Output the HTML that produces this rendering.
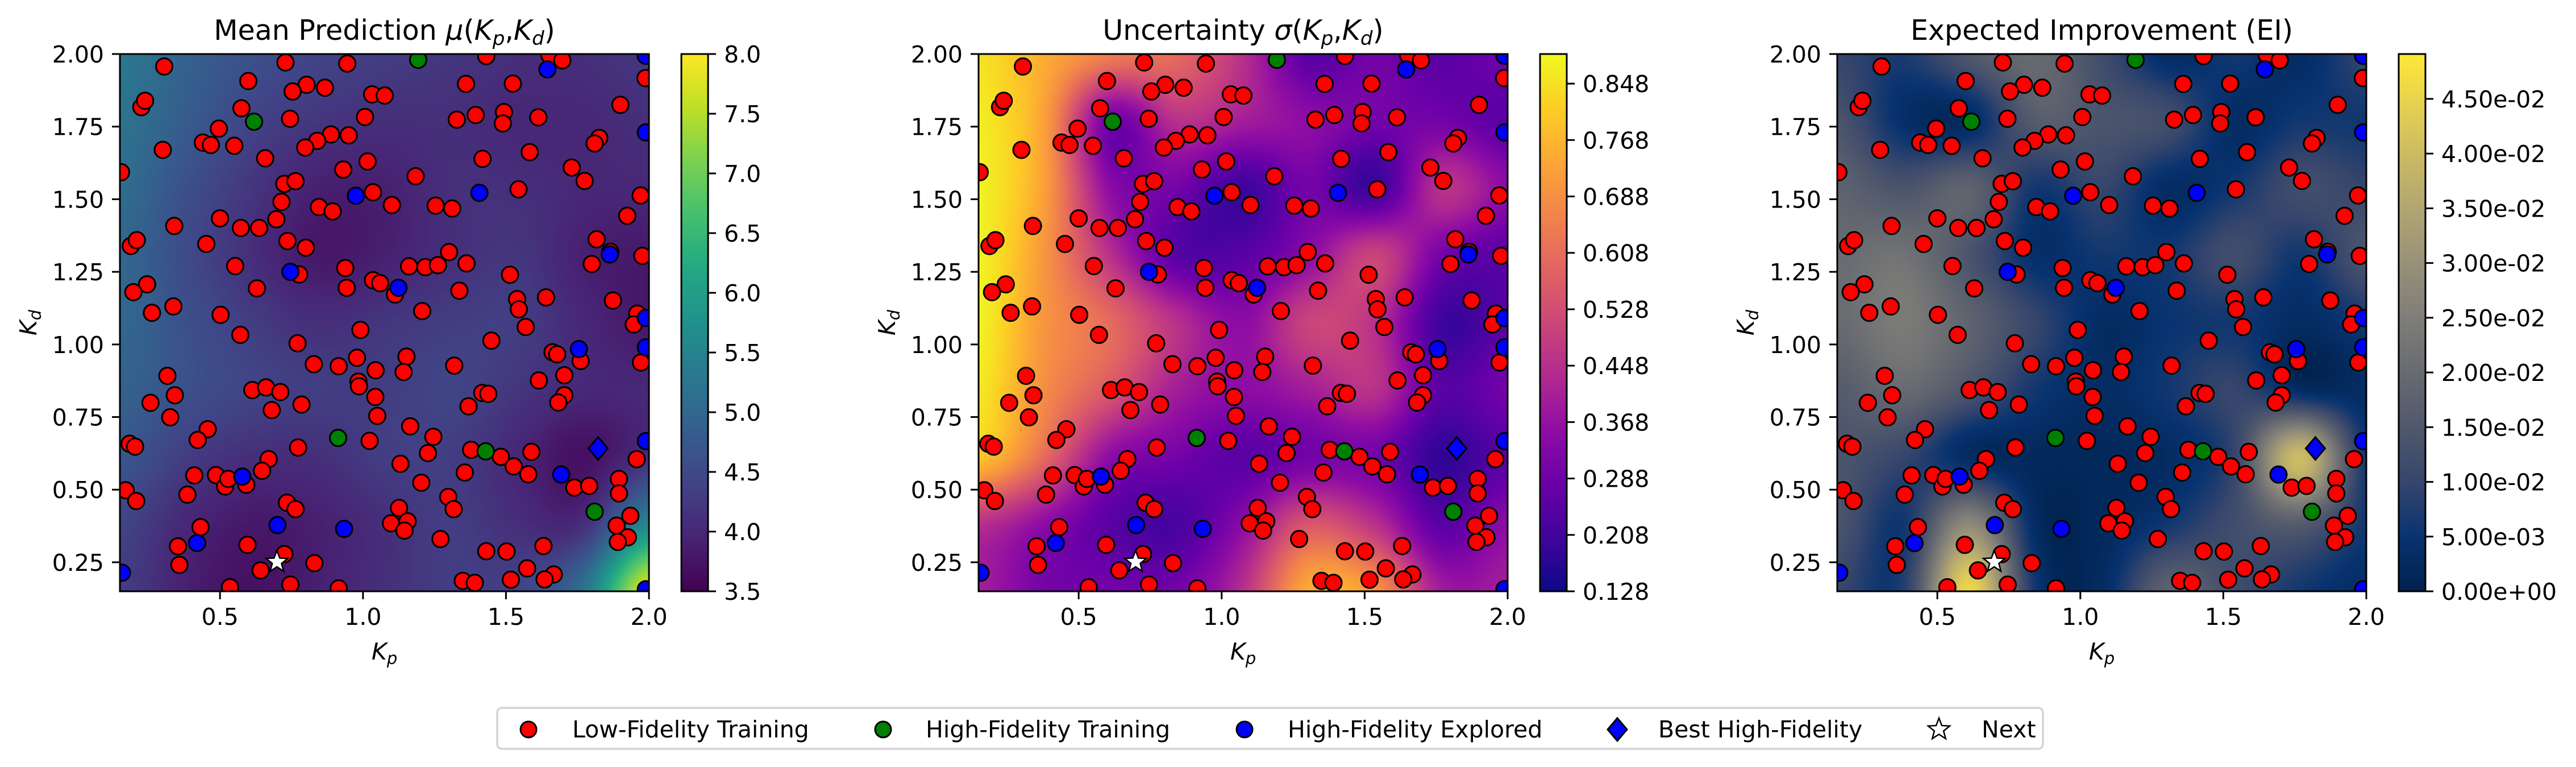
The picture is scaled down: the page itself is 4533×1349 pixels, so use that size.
<!DOCTYPE html>
<html><head><meta charset="utf-8">
<style>
html,body{margin:0;padding:0;background:#fff;}
#wrap{position:relative;width:4533px;height:1349px;overflow:hidden;background:#fff;}
canvas{position:absolute;}
svg{position:absolute;left:0;top:0;}
</style></head>
<body>
<div id="wrap">
<svg id="svg" width="4533" height="1349" xmlns="http://www.w3.org/2000/svg" font-family="DejaVu Sans, Liberation Sans, sans-serif"></svg>
</div>
<script>
// ---------- data ----------
const lowKp=[0.305,0.729,0.945,1.431,1.652,1.697,1.988,0.599,0.803,0.867,0.754,1.360,1.524,1.032,1.076,0.225,0.238,0.575,0.745,1.007,1.328,1.394,1.493,1.489,1.613,1.900,0.496,0.888,0.950,0.840,0.798,0.440,0.468,0.550,0.300,0.658,1.016,1.826,1.810,1.583,1.418,0.154,0.931,1.184,1.730,1.775,0.725,0.764,1.035,1.544,1.971,0.715,0.846,0.894,1.101,1.254,1.312,0.500,0.697,1.924,0.340,0.573,0.637,0.188,0.209,0.452,0.736,0.800,1.817,1.865,0.553,1.301,1.362,1.977,1.800,0.777,0.938,1.161,1.218,1.262,1.514,0.245,0.197,0.629,0.943,1.035,1.060,1.337,1.112,1.539,1.545,1.640,1.874,0.262,0.337,0.502,1.207,1.959,1.947,0.571,0.991,1.569,1.449,0.771,1.663,1.679,1.761,1.972,0.316,0.828,0.915,0.979,1.152,1.044,1.142,1.319,1.704,1.615,0.984,0.986,0.613,0.661,0.711,0.342,1.043,1.417,1.438,1.704,1.683,0.257,0.681,0.785,1.369,0.326,1.050,0.457,1.165,1.246,0.422,1.023,0.184,0.203,0.773,1.227,1.378,1.482,1.589,1.957,0.670,1.131,1.527,1.356,1.578,0.410,0.486,0.518,0.529,0.592,0.647,1.204,1.739,1.791,1.895,1.895,0.170,0.207,0.386,0.734,0.764,1.298,1.317,1.126,1.098,1.156,1.145,0.432,1.935,1.887,1.926,1.891,0.353,0.596,1.271,1.431,1.502,1.631,0.358,0.725,0.830,0.642,1.574,1.667,1.635,1.349,1.391,1.517,0.535,0.746,0.915];
const lowKd=[1.957,1.971,1.967,1.993,1.996,1.978,1.917,1.907,1.894,1.884,1.871,1.897,1.898,1.861,1.857,1.817,1.839,1.813,1.777,1.783,1.774,1.790,1.800,1.761,1.782,1.825,1.743,1.723,1.720,1.701,1.678,1.695,1.687,1.684,1.670,1.641,1.630,1.711,1.692,1.662,1.639,1.593,1.602,1.579,1.609,1.563,1.553,1.562,1.524,1.534,1.513,1.491,1.473,1.458,1.480,1.478,1.468,1.434,1.431,1.443,1.408,1.401,1.401,1.339,1.359,1.346,1.356,1.333,1.362,1.319,1.270,1.318,1.279,1.305,1.277,1.241,1.263,1.269,1.266,1.273,1.240,1.207,1.180,1.193,1.195,1.221,1.211,1.185,1.172,1.156,1.121,1.162,1.151,1.109,1.131,1.102,1.115,1.106,1.069,1.033,1.050,1.060,1.013,1.004,0.973,0.966,0.943,0.938,0.892,0.932,0.925,0.954,0.958,0.911,0.905,0.927,0.894,0.876,0.872,0.856,0.843,0.852,0.836,0.825,0.819,0.833,0.830,0.825,0.800,0.799,0.774,0.793,0.787,0.749,0.754,0.708,0.718,0.682,0.671,0.668,0.658,0.648,0.645,0.626,0.637,0.613,0.630,0.605,0.605,0.589,0.580,0.559,0.553,0.549,0.550,0.511,0.537,0.517,0.565,0.524,0.507,0.513,0.537,0.487,0.498,0.461,0.483,0.455,0.433,0.475,0.433,0.437,0.384,0.391,0.359,0.371,0.410,0.376,0.336,0.320,0.305,0.310,0.330,0.288,0.287,0.306,0.241,0.278,0.247,0.222,0.229,0.208,0.191,0.186,0.179,0.190,0.164,0.173,0.160];
const hiTrainKp=[1.193,0.619,0.913,1.429,1.810];
const hiTrainKd=[1.980,1.767,0.678,0.632,0.424];
const exploredKp=[1.645,1.989,1.989,0.975,1.407,0.746,1.124,1.863,1.989,1.755,1.989,1.989,1.693,0.578,0.701,0.934,0.420,0.157,1.989];
const exploredKd=[1.947,1.994,1.730,1.512,1.522,1.250,1.195,1.310,1.091,0.984,0.990,0.667,0.552,0.545,0.378,0.365,0.316,0.214,0.157];
const bestKp=[1.822], bestKd=[0.642];
const nextKp=[0.699], nextKd=[0.251];

// heatmap grids: rows Kd 2.0 -> 0.15, cols Kp 0.15 -> 2.0 (9x9)
const meanGrid=[
[5.3,4.9,4.6,4.4,4.3,4.2,4.1,4.1,4.2],
[5.2,4.8,4.4,4.2,4.1,4.1,4.0,4.0,4.1],
[5.1,4.6,4.2,3.9,3.9,4.1,4.1,4.0,4.0],
[5.0,4.5,4.1,3.8,3.9,4.1,4.2,3.9,3.8],
[5.0,4.6,4.3,4.1,4.2,4.3,4.3,4.0,3.8],
[4.9,4.6,4.4,4.3,4.3,4.4,4.2,4.0,4.0],
[4.7,4.3,4.1,4.1,4.3,4.3,4.0,3.7,4.1],
[4.4,4.0,3.8,3.9,4.1,4.3,4.1,4.1,5.6],
[4.3,3.9,3.7,3.9,4.1,4.3,4.4,5.2,7.9]];
const sigmaGrid=[
[0.85,0.75,0.65,0.60,0.45,0.25,0.30,0.25,0.30],
[0.87,0.72,0.30,0.45,0.40,0.35,0.30,0.30,0.25],
[0.88,0.72,0.35,0.30,0.20,0.30,0.20,0.45,0.35],
[0.88,0.70,0.45,0.25,0.25,0.35,0.50,0.30,0.25],
[0.88,0.70,0.60,0.45,0.35,0.50,0.45,0.20,0.25],
[0.86,0.68,0.55,0.40,0.35,0.40,0.45,0.25,0.30],
[0.80,0.60,0.35,0.30,0.25,0.30,0.30,0.18,0.25],
[0.45,0.35,0.25,0.22,0.35,0.55,0.45,0.25,0.35],
[0.40,0.30,0.30,0.30,0.45,0.75,0.70,0.40,0.40]];
const eiGrid=[
[0.010,0.007,0.015,0.020,0.012,0.003,0.006,0.003,0.010],
[0.014,0.004,0.003,0.016,0.014,0.012,0.003,0.006,0.006],
[0.018,0.014,0.018,0.006,0.010,0.003,0.006,0.012,0.010],
[0.020,0.022,0.014,0.004,0.006,0.006,0.012,0.006,0.014],
[0.020,0.024,0.018,0.010,0.003,0.005,0.006,0.003,0.006],
[0.016,0.020,0.014,0.006,0.003,0.006,0.010,0.003,0.003],
[0.014,0.010,0.003,0.002,0.002,0.003,0.010,0.040,0.006],
[0.014,0.006,0.028,0.003,0.002,0.006,0.012,0.016,0.006],
[0.010,0.008,0.046,0.006,0.003,0.018,0.012,0.006,0.003]];

const xTicks=[0.5,1.0,1.5,2.0];
const xTickLabels=['0.5','1.0','1.5','2.0'];
const yTicks=[0.25,0.5,0.75,1.0,1.25,1.5,1.75,2.0];
const yTickLabels=['0.25','0.50','0.75','1.00','1.25','1.50','1.75','2.00'];
const cb1Ticks=[3.5,4.0,4.5,5.0,5.5,6.0,6.5,7.0,7.5,8.0];
const cb1Labels=['3.5','4.0','4.5','5.0','5.5','6.0','6.5','7.0','7.5','8.0'];
const cb2Ticks=[0.128,0.208,0.288,0.368,0.448,0.528,0.608,0.688,0.768,0.848];
const cb2Labels=['0.128','0.208','0.288','0.368','0.448','0.528','0.608','0.688','0.768','0.848'];
const cb3Ticks=[0,0.005,0.01,0.015,0.02,0.025,0.03,0.035,0.04,0.045];
const cb3Labels=['0.00e+00','5.00e-03','1.00e-02','1.50e-02','2.00e-02','2.50e-02','3.00e-02','3.50e-02','4.00e-02','4.50e-02'];

// ---------- layout ----------
const PL=[211,1722,3233], PW=931, PT=95, PH=945;
const XMIN=0.15,XMAX=2.0,YMIN=0.15,YMAX=2.0;
function sx(i,v){return PL[i]+(v-XMIN)/(XMAX-XMIN)*PW;}
function sy(v){return PT+(YMAX-v)/(YMAX-YMIN)*PH;}

const cmaps={
viridis:['#440154','#482475','#414487','#355f8d','#2a788e','#21918c','#22a884','#44bf70','#7ad151','#bddf26','#fde725'],
plasma:['#0d0887','#41049d','#6a00a8','#8f0da4','#b12a90','#cc4778','#e16462','#f2844b','#fca636','#fcce25','#f0f921'],
cividis:['#00224e','#083370','#35456c','#4f576c','#666970','#7d7c78','#958f78','#aea373','#c8b866','#e5cf52','#fee838']};
function hex(h){return [parseInt(h.substr(1,2),16),parseInt(h.substr(3,2),16),parseInt(h.substr(5,2),16)];}
const cmRGB={};for(const k in cmaps)cmRGB[k]=cmaps[k].map(hex);
function cm(name,t){t=Math.max(0,Math.min(1,t));const s=cmRGB[name];const f=t*(s.length-1);const i=Math.min(s.length-2,Math.floor(f));const u=f-i;return [0,1,2].map(j=>s[i][j]+(s[i+1][j]-s[i][j])*u);}
function cr(p0,p1,p2,p3,t){return 0.5*((2*p1)+(-p0+p2)*t+(2*p0-5*p1+4*p2-p3)*t*t+(-p0+3*p1-3*p2+p3)*t*t*t);}
function bicubic(g,gx,gy){const n=g.length,m=g[0].length;const ix=Math.min(m-2,Math.floor(gx)),iy=Math.min(n-2,Math.floor(gy));const tx=gx-ix,ty=gy-iy;
 const G=(r,c)=>g[Math.max(0,Math.min(n-1,r))][Math.max(0,Math.min(m-1,c))];
 const rows=[];for(let r=-1;r<3;r++){rows.push(cr(G(iy+r,ix-1),G(iy+r,ix),G(iy+r,ix+1),G(iy+r,ix+2),tx));}
 return cr(rows[0],rows[1],rows[2],rows[3],ty);}

const wrap=document.getElementById('wrap');
const svg=document.getElementById('svg');
const NS='http://www.w3.org/2000/svg';
function el(tag,attrs,parent){const e=document.createElementNS(NS,tag);for(const k in attrs)e.setAttribute(k,attrs[k]);(parent||svg).appendChild(e);return e;}

const panels=[
{grid:meanGrid,cmap:'viridis',vmin:3.5,vmax:8.0,ticks:cb1Ticks,labels:cb1Labels,title:['Mean Prediction ','μ','(','K','p',',','K','d',')'],name:'mean-prediction'},
{grid:sigmaGrid,cmap:'plasma',vmin:0.128,vmax:0.89,ticks:cb2Ticks,labels:cb2Labels,title:['Uncertainty ','σ','(','K','p',',','K','d',')'],name:'uncertainty'},
{grid:eiGrid,cmap:'cividis',vmin:0,vmax:0.0491,ticks:cb3Ticks,labels:cb3Labels,title:['Expected Improvement (EI)'],name:'expected-improvement'}];

panels.forEach((P,i)=>{
 const cw=310,ch=315;
 const cv=document.createElement('canvas');cv.width=cw;cv.height=ch;
 cv.style.left=PL[i]+'px';cv.style.top=PT+'px';cv.style.width=PW+'px';cv.style.height=PH+'px';
 
 
 wrap.insertBefore(cv,svg);
 const ctx=cv.getContext('2d');const img=ctx.createImageData(cw,ch);
 const n=P.grid.length-1,m=P.grid[0].length-1;
 for(let y=0;y<ch;y++)for(let x=0;x<cw;x++){
  const gx=(x+0.5)/cw*m, gy=(y+0.5)/ch*n;
  const v=bicubic(P.grid,gx,gy);
  const c=cm(P.cmap,(v-P.vmin)/(P.vmax-P.vmin));
  const o=(y*cw+x)*4;img.data[o]=c[0];img.data[o+1]=c[1];img.data[o+2]=c[2];img.data[o+3]=255;}
 ctx.putImageData(img,0,0);
 const cbx=PL[i]+988, cbw=47;
 const cc=document.createElement('canvas');cc.width=4;cc.height=PH;
 cc.style.left=cbx+'px';cc.style.top=PT+'px';cc.style.width=cbw+'px';cc.style.height=PH+'px';
 
 
 wrap.insertBefore(cc,svg);
 const c2=cc.getContext('2d');
 for(let y=0;y<PH;y++){const c=cm(P.cmap,1-y/(PH-1));c2.fillStyle='rgb('+c.map(Math.round).join(',')+')';c2.fillRect(0,y,4,1);}
});

panels.forEach((P,i)=>{
 const g=el('g',{});
 
 
 const clip=el('clipPath',{id:'clip'+i},g);el('rect',{x:PL[i],y:PT,width:PW,height:PH},clip);
 const t=el('text',{x:PL[i]+PW/2,y:70,'text-anchor':'middle','font-size':49,fill:'#000'},g);
 
 
 if(P.title.length===1){t.textContent=P.title[0];}
 else{
  const parts=P.title;
  const mk=(txt,attrs)=>{const s=el('tspan',attrs||{},t);s.textContent=txt;return s;};
  mk(parts[0]);mk(parts[1],{'font-style':'italic'});mk(parts[2]);
  mk(parts[3],{'font-style':'italic'});mk(parts[4],{'font-style':'italic','font-size':34,dy:9});
  mk(parts[5],{dy:-9});mk(parts[6],{'font-style':'italic'});mk(parts[7],{'font-style':'italic','font-size':34,dy:9});
  mk(parts[8],{dy:-9});
 }
 const pts=el('g',{'clip-path':'url(#clip'+i+')'},g);
 lowKp.forEach((kp,j)=>{const c=el('circle',{cx:sx(i,kp),cy:sy(lowKd[j]),r:14.5,fill:'#ff0000',stroke:'#000','stroke-width':3},pts);
  
  });
 hiTrainKp.forEach((kp,j)=>{const c=el('circle',{cx:sx(i,kp),cy:sy(hiTrainKd[j]),r:14.5,fill:'#008000',stroke:'#000','stroke-width':3},pts);
  
  });
 exploredKp.forEach((kp,j)=>{const c=el('circle',{cx:sx(i,kp),cy:sy(exploredKd[j]),r:14.5,fill:'#0000ff',stroke:'#000','stroke-width':3},pts);
  
  });
 bestKp.forEach((kp,j)=>{const x=sx(i,kp),y=sy(bestKd[j]);
  const d=el('polygon',{points:`${x},${y-20} ${x+17},${y} ${x},${y+20} ${x-17},${y}`,fill:'#0000ff',stroke:'#000','stroke-width':3},pts);
  
  });
 nextKp.forEach((kp,j)=>{const x=sx(i,kp),y=sy(nextKd[j]);const R=20,r=8.5;let p=[];
  for(let k=0;k<10;k++){const a=-Math.PI/2+k*Math.PI/5;const rr=k%2?r:R;p.push((x+rr*Math.cos(a)).toFixed(1)+','+(y+rr*Math.sin(a)).toFixed(1));}
  const s=el('polygon',{points:p.join(' '),fill:'#fff',stroke:'#000','stroke-width':2.5},pts);
  
  });
 el('rect',{x:PL[i],y:PT,width:PW,height:PH,fill:'none',stroke:'#000','stroke-width':3},g);
 xTicks.forEach((v,j)=>{const x=sx(i,v);el('line',{x1:x,y1:PT+PH,x2:x,y2:PT+PH+14,stroke:'#000','stroke-width':3},g);
  const tl=el('text',{x:x,y:1099,'text-anchor':'middle','font-size':41},g);tl.textContent=xTickLabels[j];
  
  });
 yTicks.forEach((v,j)=>{const y=sy(v);el('line',{x1:PL[i]-14,y1:y,x2:PL[i],y2:y,stroke:'#000','stroke-width':3},g);
  const tl=el('text',{x:PL[i]-28,y:y+15,'text-anchor':'end','font-size':41},g);tl.textContent=yTickLabels[j];
  
  });
 const xl=el('text',{x:PL[i]+PW/2,y:1160,'text-anchor':'middle','font-size':41,'font-style':'italic'},g);
 
 
 const a=el('tspan',{},xl);a.textContent='K';const b=el('tspan',{'font-size':29,dy:8},xl);b.textContent='p';
 const yl=el('text',{x:0,y:0,'text-anchor':'middle','font-size':41,'font-style':'italic',transform:`translate(${PL[i]-147},${PT+PH/2}) rotate(-90)`},g);
 
 
 const a2=el('tspan',{},yl);a2.textContent='K';const b2=el('tspan',{'font-size':29,dy:8},yl);b2.textContent='d';
 const cbx=PL[i]+988,cbw=47;
 el('rect',{x:cbx,y:PT,width:cbw,height:PH,fill:'none',stroke:'#000','stroke-width':3},g);
 P.ticks.forEach((v,j)=>{const y=PT+(P.vmax-v)/(P.vmax-P.vmin)*PH;
  el('line',{x1:cbx+cbw,y1:y,x2:cbx+cbw+14,y2:y,stroke:'#000','stroke-width':3},g);
  const tl=el('text',{x:cbx+cbw+28,y:y+15,'font-size':41},g);tl.textContent=P.labels[j];
  
  });
});

const lg=el('g',{});


el('rect',{x:875,y:1245,width:2720,height:72,rx:8,fill:'#fff',stroke:'#d4d4d4','stroke-width':3.5},lg);
const legItems=[['circle','#ff0000','Low-Fidelity Training',930,1007],['circle','#008000','High-Fidelity Training',1554,1629],['circle','#0000ff','High-Fidelity Explored',2190,2266],['diamond','#0000ff','Best High-Fidelity',2846,2918],['star','#fff','Next',3412,3487]];
legItems.forEach(it=>{const [shape,col,label,mx,tx]=it;const my=1283;let m;
 if(shape==='circle')m=el('circle',{cx:mx,cy:my,r:14,fill:col,stroke:'#000','stroke-width':3},lg);
 else if(shape==='diamond')m=el('polygon',{points:`${mx},${my-20} ${mx+17},${my} ${mx},${my+20} ${mx-17},${my}`,fill:col,stroke:'#000','stroke-width':3},lg);
 else{let p=[];for(let k=0;k<10;k++){const a=-Math.PI/2+k*Math.PI/5;const rr=k%2?8.5:20;p.push((mx+rr*Math.cos(a)).toFixed(1)+','+(my+rr*Math.sin(a)).toFixed(1));}
  m=el('polygon',{points:p.join(' '),fill:col,stroke:'#000','stroke-width':2.5},lg);}
 
 
 const t=el('text',{x:tx,y:1297,'font-size':41},lg);t.textContent=label;
 
 
});
</script>
</body></html>
